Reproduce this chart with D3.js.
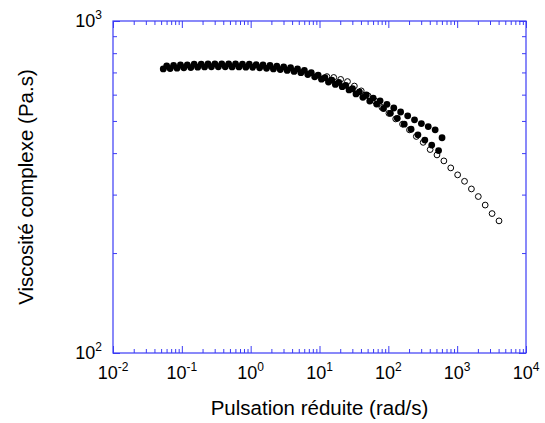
<!DOCTYPE html>
<html>
<head>
<meta charset="utf-8">
<script src="https://cdn.jsdelivr.net/npm/d3@7"></script>
<style>
  body { margin: 0; background: #fff; }
  text { font-family: "Liberation Sans", Arial, sans-serif; fill: #000; }
</style>
</head>
<body>
<svg id="chart"></svg>
<script>
// Dimensions
const width = 545;
const height = 423;
const margin = { top: 21, right: 19, bottom: 70, left: 113 };
const innerW = width - margin.left - margin.right;
const innerH = height - margin.top - margin.bottom;

// Data (pulsation in rad/s, viscosity in Pa.s)
const filledA_x = [0.0537, 0.0676, 0.0851, 0.107, 0.135, 0.170, 0.214, 0.269, 0.339, 0.427,
  0.537, 0.676, 0.851, 1.07, 1.35, 1.70, 2.14, 2.69, 3.39, 4.27,
  5.37, 6.76, 8.51, 10.7, 13.5, 17.0, 21.4, 26.9, 33.9, 42.7,
  53.7, 67.6, 85.1, 107, 135, 170, 214, 269, 339, 427, 537];
const filledA_y = [717, 719, 721, 723, 724, 726, 727, 728, 728, 728,
  727, 727, 726, 725, 723, 720, 717, 714, 710, 705,
  699, 690, 679, 668, 655, 644, 634, 620, 603, 589,
  574, 562, 545, 527, 509, 489, 472, 454, 438, 423, 407];

const filledB_x = [0.0603, 0.0759, 0.0955, 0.120, 0.151, 0.191, 0.240, 0.302, 0.380, 0.479,
  0.603, 0.759, 0.955, 1.20, 1.51, 1.91, 2.40, 3.02, 3.80, 4.79,
  6.03, 7.59, 9.55, 12.0, 15.1, 19.1, 24.0, 30.2, 38.0, 47.9,
  60.3, 75.9, 95.5, 120, 151, 191, 240, 302, 380, 479, 603];
const filledB_y = [732, 735, 737, 738, 741, 742, 742.5, 743, 743, 743,
  742.5, 742, 741, 739, 737, 734.5, 731, 727, 723, 717,
  710, 699, 687, 675, 664, 653, 640, 625, 612, 599,
  586, 575, 561, 547, 532, 518, 504, 491, 481, 470, 445];

const open_x = [12.8, 16.1, 20.3, 25.5, 32.1, 40.4, 50.9, 64.1, 80.7, 102,
  128, 161, 203, 255, 321, 405, 509, 641, 807, 1016,
  1279, 1611, 2028, 2553, 3214, 4055];
const open_y = [680, 676, 667, 657, 637, 616, 595, 574, 549, 527,
  507, 489, 470, 449, 431, 410, 395, 379, 361, 344,
  329, 312, 296, 279, 263, 250];

// Tick labels
const xMajor = [1e-2, 1e-1, 1e0, 1e1, 1e2, 1e3, 1e4];
const xExp = ['-2', '-1', '0', '1', '2', '3', '4'];
const yMajor = [1e2, 1e3];
const yExp = ['2', '3'];

const axisColor = '#3b3bf5';

const svg = d3.select('#chart')
  .attr('width', width)
  .attr('height', height);

const g = svg.append('g')
  .attr('transform', `translate(${margin.left},${margin.top})`);

// Scales
const x = d3.scaleLog().domain([1e-2, 1e4]).range([0, innerW]);
const y = d3.scaleLog().domain([1e2, 1e3]).range([innerH, 0]);

// minor ticks: 2..9 in each decade
const xMinor = [];
for (let e = -2; e < 4; e++) for (let m = 2; m <= 9; m++) xMinor.push(m * Math.pow(10, e));
const yMinor = [];
for (let m = 2; m <= 9; m++) yMinor.push(m * 100);

function styleAxis(sel) {
  sel.select('.domain').remove();
  sel.selectAll('line').attr('stroke', axisColor).attr('stroke-width', 1);
  sel.selectAll('text').remove();
}

// ticks pointing inwards on all four sides
const axes = [
  [d3.axisBottom(x), `translate(0,${innerH})`, xMajor, xMinor],
  [d3.axisTop(x), 'translate(0,0)', xMajor, xMinor],
  [d3.axisLeft(y), 'translate(0,0)', yMajor, yMinor],
  [d3.axisRight(y), `translate(${innerW},0)`, yMajor, yMinor]
];
axes.forEach(([ax, tr, major, minor]) => {
  g.append('g').attr('transform', tr)
    .call(ax.tickValues(minor).tickSize(-4).tickFormat(''))
    .call(styleAxis);
  g.append('g').attr('transform', tr)
    .call(ax.tickValues(major).tickSize(-7).tickFormat(''))
    .call(styleAxis);
});

// frame
g.append('rect')
  .attr('width', innerW)
  .attr('height', innerH)
  .attr('fill', 'none')
  .attr('stroke', axisColor)
  .attr('stroke-width', 1.2);

// x tick labels
xMajor.forEach((v, i) => {
  const t = g.append('text')
    .attr('x', x(v))
    .attr('y', innerH + 26)
    .attr('text-anchor', 'middle')
    .attr('font-size', 18);
  t.append('tspan').text('10');
  t.append('tspan').attr('font-size', 12).attr('dy', -8).text(xExp[i]);
});

// y tick labels
yMajor.forEach((v, i) => {
  const t = g.append('text')
    .attr('x', -11)
    .attr('y', y(v) + 6)
    .attr('text-anchor', 'end')
    .attr('font-size', 18);
  t.append('tspan').text('10');
  t.append('tspan').attr('font-size', 12).attr('dy', -8).text(yExp[i]);
});

// axis titles
g.append('text')
  .attr('x', innerW / 2)
  .attr('y', innerH + 62)
  .attr('text-anchor', 'middle')
  .attr('font-size', 20.5)
  .text('Pulsation réduite (rad/s)');

g.append('text')
  .attr('transform', `translate(${-80},${innerH / 2}) rotate(-90)`)
  .attr('text-anchor', 'middle')
  .attr('font-size', 20.5)
  .text('Viscosité complexe (Pa.s)');

// points
const openPts = open_x.map((d, i) => ({ x: d, y: open_y[i] }));
const aPts = filledA_x.map((d, i) => ({ x: d, y: filledA_y[i] }));
const bPts = filledB_x.map((d, i) => ({ x: d, y: filledB_y[i] }));

g.selectAll('circle.open')
  .data(openPts)
  .enter()
  .append('circle')
  .attr('class', 'open')
  .attr('cx', (d) => x(d.x))
  .attr('cy', (d) => y(d.y))
  .attr('r', 2.9)
  .attr('fill', '#fff')
  .attr('stroke', '#000')
  .attr('stroke-width', 1);

[aPts, bPts].forEach((pts, k) => {
  g.selectAll(`circle.f${k}`)
    .data(pts)
    .enter()
    .append('circle')
    .attr('class', `f${k}`)
    .attr('cx', (d) => x(d.x))
    .attr('cy', (d) => y(d.y))
    .attr('r', 3.4)
    .attr('fill', '#000');
});
</script>
</body>
</html>
